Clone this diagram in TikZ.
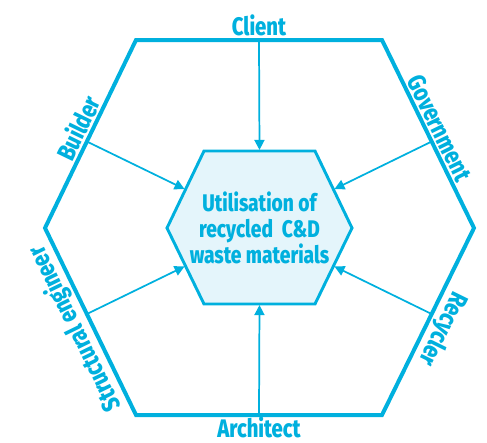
\documentclass[tikz,border=0pt]{standalone}
\usepackage{fontspec}
\setmainfont{Fira Sans}[FakeStretch=0.8,BoldFont={Fira Sans ExtraBold}]
\usepackage{tikz}
\usetikzlibrary{arrows.meta,
                calc,
                positioning}
\definecolor{hexblue}{RGB}{0,176,222}
\definecolor{hexfill}{RGB}{228,245,251}
\tikzstyle{arrow} = [line width=1.3pt,hexblue,-{Triangle[length=7.5pt,width=7.5pt]},shorten >=0.8pt]
\tikzstyle{role} = [font=\bfseries\fontsize{19}{21}\selectfont,text=hexblue,inner sep=1.2pt]

\begin{document}
\begin{tikzpicture}[x=0.75pt,y=-0.75pt]
    \useasboundingbox (0,0) rectangle (487,443);

    % outer hexagon
    \coordinate (o1) at (136,40);
    \coordinate (o2) at (382,40);
    \coordinate (o3) at (474,228);
    \coordinate (o4) at (382,415);
    \coordinate (o5) at (136,415);
    \coordinate (o6) at (45,228);
    \draw[hexblue,line width=3pt,line join=miter]
        (o1) -- node[role,above] (client) {Client}
        (o2) -- node[role,sloped,above] (gov) {Government}
        (o3) -- node[role,sloped,above,allow upside down] (recy) {Recycler}
        (o4) -- node[role,below=-1.5pt] (arch) {Architect}
        (o5) -- node[role,sloped,above,allow upside down] (struct) {Structural engineer}
        (o6) -- node[role,sloped,above] (build) {Builder} cycle;

    % inner hexagon
    \coordinate (i1) at (204,151);
    \coordinate (i2) at (315,151);
    \coordinate (i3) at (352,228);
    \coordinate (i4) at (315,304);
    \coordinate (i5) at (204,304);
    \coordinate (i6) at (167,228);
    \draw[hexblue,line width=2.2pt,fill=hexfill,line join=miter]
        (i1) -- (i2) -- (i3) -- (i4) -- (i5) -- (i6) -- cycle;
    \node[role,align=center,font=\bfseries\fontsize{18}{19.5}\selectfont] (goal) at (259.5,228)
        {Utilisation of\\recycled\ \ C\&D\\waste materials};

    % arrow ends
    \coordinate (a1) at ($(o1)!0.5!(o2)$);
    \coordinate (a2) at ($(o3)!0.46!(o2)$);
    \coordinate (a3) at ($(o3)!0.46!(o4)$);
    \coordinate (a4) at ($(o5)!0.5!(o4)$);
    \coordinate (a5) at ($(o6)!0.46!(o5)$);
    \coordinate (a6) at ($(o6)!0.46!(o1)$);
    \coordinate (b1) at ($(i1)!0.5!(i2)$);
    \coordinate (b2) at ($(i2)!0.5!(i3)$);
    \coordinate (b3) at ($(i3)!0.5!(i4)$);
    \coordinate (b4) at ($(i5)!0.5!(i4)$);
    \coordinate (b5) at ($(i5)!0.5!(i6)$);
    \coordinate (b6) at ($(i6)!0.5!(i1)$);
    \draw [arrow] (a1) -- (b1);
    \draw [arrow] (a2) -- (b2);
    \draw [arrow] (a3) -- (b3);
    \draw [arrow] (a4) -- (b4);
    \draw [arrow] (a5) -- (b5);
    \draw [arrow] (a6) -- (b6);
\end{tikzpicture}
\end{document}
